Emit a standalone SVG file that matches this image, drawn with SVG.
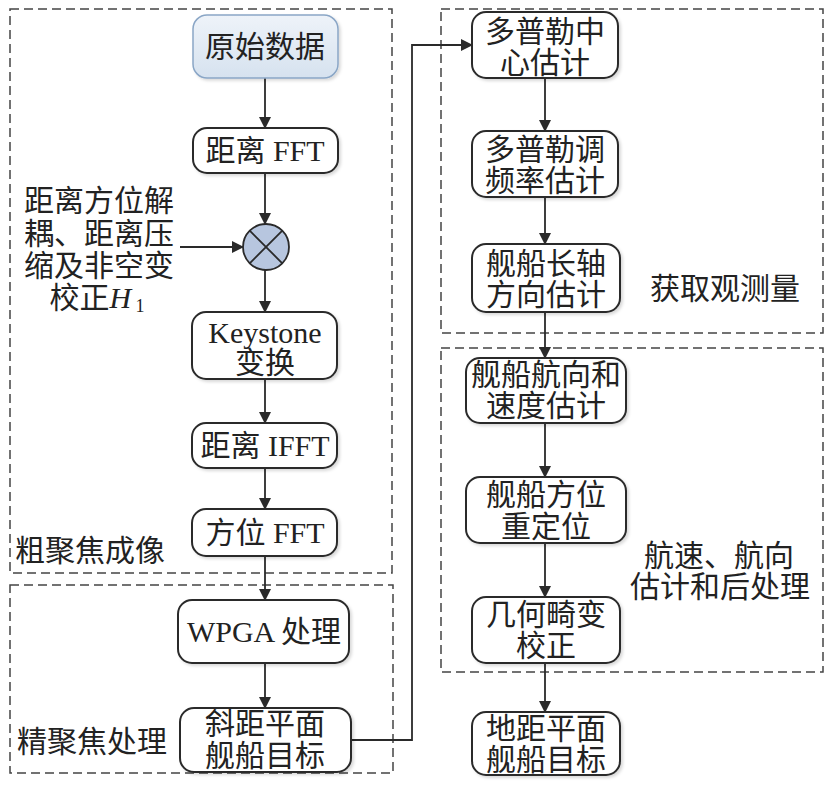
<svg xmlns="http://www.w3.org/2000/svg" width="838" height="792" viewBox="0 0 838 792">
<defs>
<marker id="arr" markerWidth="12" markerHeight="12" refX="11" refY="6" orient="auto" markerUnits="userSpaceOnUse">
<path d="M0,0 L12,6 L0,12 Z" fill="#2a2a2a"/>
</marker>
<linearGradient id="blue" x1="0" y1="0" x2="0" y2="1">
<stop offset="0" stop-color="#eef3f9"/>
<stop offset="1" stop-color="#d6e2ef"/>
</linearGradient>
<filter id="sh" x="-10%" y="-10%" width="130%" height="130%">
<feDropShadow dx="2" dy="2" stdDeviation="1.5" flood-color="#000" flood-opacity="0.15"/>
</filter>
</defs>
<style>
text{font-family:"Liberation Serif","Noto Sans CJK SC",serif;font-size:30px;fill:#222;text-anchor:middle}
.lbl{text-anchor:start}
.grp{fill:none;stroke:#444;stroke-width:1.5;stroke-dasharray:9 5}
.node rect{fill:#fff;stroke:#2a2a2a;stroke-width:2;filter:url(#sh)}
.conn path{fill:none;stroke:#2a2a2a;stroke-width:1.8;marker-end:url(#arr)}
</style>
<rect width="838" height="792" fill="#fff"/>
<g id="groups">
<rect class="grp" x="10" y="9" width="382" height="564"/>
<rect class="grp" x="10" y="585" width="383" height="188"/>
<rect class="grp" x="441" y="9" width="382" height="324"/>
<rect class="grp" x="441" y="348" width="382" height="324"/>
<text class="lbl" x="15" y="561">粗聚焦成像</text>
<text class="lbl" x="17" y="752">精聚焦处理</text>
<text class="lbl" x="650" y="299">获取观测量</text>
<text x="719" y="566">航速、航向</text>
<text x="720" y="597">估计和后处理</text>
</g>
<g class="conn">
<path d="M265,78 V128"/>
<path d="M265,173 V224"/>
<path d="M180,247 H243"/>
<path d="M265,270 V312"/>
<path d="M265,379 V423"/>
<path d="M265,468 V509"/>
<path d="M265,556 V600"/>
<path d="M265,663 V708"/>
<path d="M351,740 H412 V45 H472"/>
<path d="M545,78 V131"/>
<path d="M545,197 V244"/>
<path d="M545,312 V358"/>
<path d="M545,423 V477"/>
<path d="M545,543 V597"/>
<path d="M545,663 V712"/>
</g>
<g id="n_raw" class="node">
<rect x="193" y="15" width="145" height="63" rx="14" style="fill:url(#blue);stroke:#8aa6c6;stroke-width:1.5"/>
<text x="265" y="57">原始数据</text>
</g>
<g id="n_rfft" class="node">
<rect x="193" y="128" width="145" height="45" rx="14"/>
<text x="265" y="161">距离 FFT</text>
</g>
<g id="n_mul">
<circle cx="266" cy="247" r="23" fill="#b7c6df" stroke="#2a2a2a" stroke-width="1.8"/>
<path d="M249.7,230.7 L282.3,263.3 M282.3,230.7 L249.7,263.3" stroke="#2a2a2a" stroke-width="1.8"/>
</g>
<g id="n_label">
<text x="99" y="211">距离方位解</text>
<text x="99" y="244">耦、距离压</text>
<text x="99" y="276">缩及非空变</text>
<text x="97" y="308">校正<tspan font-style="italic">H</tspan><tspan font-size="18" dy="4"> 1</tspan></text>
</g>
<g id="n_key" class="node">
<rect x="192" y="312" width="145" height="67" rx="14"/>
<text x="265" y="343">Keystone</text>
<text x="265" y="373">变换</text>
</g>
<g id="n_ifft" class="node">
<rect x="192" y="423" width="145" height="45" rx="14"/>
<text x="265" y="456">距离 IFFT</text>
</g>
<g id="n_afft" class="node">
<rect x="192" y="509" width="145" height="47" rx="14"/>
<text x="265" y="543">方位 FFT</text>
</g>
<g id="n_wpga" class="node">
<rect x="178" y="600" width="171" height="63" rx="14"/>
<text x="264" y="642">WPGA 处理</text>
</g>
<g id="n_slant" class="node">
<rect x="180" y="708" width="171" height="64" rx="14"/>
<text x="265" y="734">斜距平面</text>
<text x="265" y="766">舰船目标</text>
</g>
<g id="n_dc" class="node">
<rect x="472" y="12" width="146" height="66" rx="14"/>
<text x="545" y="42">多普勒中</text>
<text x="545" y="73">心估计</text>
</g>
<g id="n_dr" class="node">
<rect x="472" y="131" width="146" height="66" rx="14"/>
<text x="545" y="160">多普勒调</text>
<text x="545" y="191">频率估计</text>
</g>
<g id="n_axis" class="node">
<rect x="472" y="244" width="148" height="68" rx="14"/>
<text x="546" y="274">舰船长轴</text>
<text x="546" y="305">方向估计</text>
</g>
<g id="n_head" class="node">
<rect x="466" y="358" width="160" height="65" rx="14"/>
<text x="546" y="385">舰船航向和</text>
<text x="546" y="416">速度估计</text>
</g>
<g id="n_reloc" class="node">
<rect x="466" y="477" width="160" height="66" rx="14"/>
<text x="546" y="505">舰船方位</text>
<text x="546" y="537">重定位</text>
</g>
<g id="n_geo" class="node">
<rect x="472" y="597" width="148" height="66" rx="14"/>
<text x="546" y="625">几何畸变</text>
<text x="546" y="656">校正</text>
</g>
<g id="n_ground" class="node">
<rect x="472" y="712" width="148" height="63" rx="14"/>
<text x="546" y="739">地距平面</text>
<text x="546" y="770">舰船目标</text>
</g>
</svg>
